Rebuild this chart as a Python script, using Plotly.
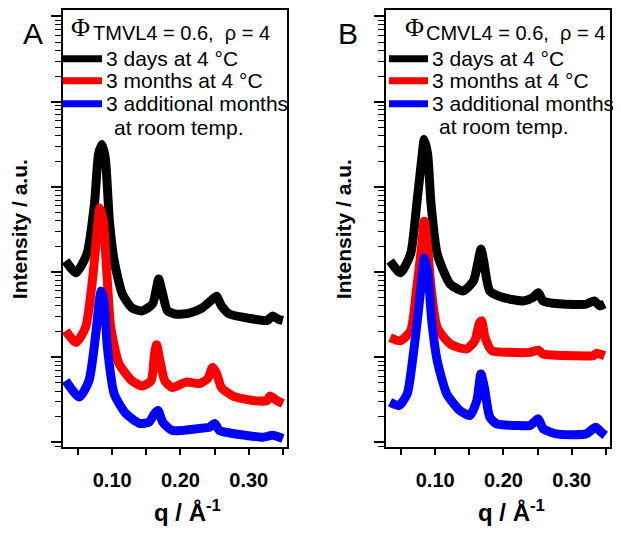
import plotly.graph_objects as go

# ---------------- data (q in 1/Angstrom, intensity in a.u., log scale) ----------------
qA_black = [0.032, 0.047, 0.063, 0.074, 0.080, 0.085, 0.090, 0.096, 0.103, 0.115, 0.129, 0.144,
            0.159, 0.165, 0.168, 0.174, 0.181, 0.194, 0.213, 0.232, 0.247, 0.253, 0.260, 0.272,
            0.297, 0.327, 0.335, 0.343, 0.350]
IA_black = [135, 98, 163, 624, 2400, 3140, 2150, 394, 135, 55, 38, 35,
            42, 65, 83, 55, 35, 32, 33, 38, 48, 52, 40, 32,
            29, 27, 30.5, 28, 27]

qA_red = [0.032, 0.047, 0.061, 0.071, 0.078, 0.082, 0.087, 0.092, 0.098, 0.110, 0.129, 0.144,
          0.157, 0.162, 0.165, 0.170, 0.177, 0.188, 0.208, 0.228, 0.240, 0.247, 0.253, 0.260,
          0.277, 0.306, 0.327, 0.331, 0.341, 0.350]
IA_red = [20.4, 14.9, 22.3, 78.5, 302, 565, 395, 103, 22.3, 8.4, 5.3, 4.6,
          5.3, 11, 14, 9.1, 5.3, 4.4, 5.1, 4.9, 5.6, 7.6, 6.4, 4.4,
          3.5, 3.1, 3.1, 3.5, 3.1, 2.86]

qA_blue = [0.032, 0.052, 0.066, 0.076, 0.081, 0.084, 0.088, 0.093, 0.103, 0.120, 0.140, 0.154,
           0.162, 0.167, 0.174, 0.188, 0.228, 0.243, 0.250, 0.257, 0.277, 0.321, 0.335, 0.350]
IA_blue = [5.3, 3.4, 5.3, 18.8, 45.8, 60, 45.8, 13, 3.7, 2.18, 1.67, 1.73,
           2.18, 2.37, 1.73, 1.38, 1.46, 1.51, 1.67, 1.38, 1.27, 1.15, 1.21, 1.11]

qB_black = [0.034, 0.049, 0.064, 0.073, 0.081, 0.084, 0.089, 0.094, 0.103, 0.122, 0.141, 0.156,
            0.163, 0.167, 0.171, 0.180, 0.200, 0.229, 0.243, 0.251, 0.258, 0.287, 0.321, 0.333,
            0.341, 0.348]
IB_black = [135, 98, 163, 624, 2400, 3600, 2400, 624, 163, 72, 60, 78.5,
            135, 186, 135, 60, 50, 45.8, 50, 57, 45.8, 42, 42, 45.8,
            40, 42]

qB_red = [0.034, 0.049, 0.064, 0.073, 0.080, 0.084, 0.089, 0.094, 0.103, 0.122, 0.146, 0.158,
          0.165, 0.168, 0.173, 0.183, 0.209, 0.239, 0.251, 0.258, 0.307, 0.331, 0.336, 0.348]
IB_red = [17, 15.6, 20.4, 65.5, 192, 395, 192, 65.5, 22.3, 14.3, 12.5, 15.6,
          25.5, 26.7, 17, 11.9, 11.4, 11.4, 12.1, 10.9, 10.4, 10.4, 11.1, 10.4]

qB_blue = [0.034, 0.047, 0.059, 0.068, 0.076, 0.082, 0.084, 0.089, 0.095, 0.103, 0.117, 0.136,
           0.151, 0.161, 0.167, 0.172, 0.180, 0.190, 0.219, 0.239, 0.251, 0.258, 0.277, 0.321,
           0.335, 0.343, 0.349]
IB_blue = [2.96, 2.71, 3.71, 10.9, 38.2, 112, 147, 103, 26.7, 9.1, 3.71, 2.37,
           2.07, 3.1, 6.36, 4.44, 1.98, 1.65, 1.58, 1.58, 1.89, 1.45, 1.26, 1.26,
           1.51, 1.32, 1.21]

series_names = ["3 days at 4 °C", "3 months at 4 °C", "3 additional months at room temp."]
series_colors = ["#000000", "#ff0000", "#0000ff"]
major_ticks = [0.10, 0.20, 0.30]
major_tick_text = ["0.10", "0.20", "0.30"]
minor_ticks = [0.05, 0.15, 0.25, 0.35]
panel_labels = ["A", "B"]
phi_subs = ["TMVL4", "CMVL4"]

# ---------------- figure ----------------
# the page body has an 8px margin, so the figure is drawn 8px in from the window corner
OFF = 8
W, H = 621 - OFF, 533 - OFF
FONT = "Arial, 'Liberation Sans', sans-serif"

def px(x):
    return (x - OFF) / W

def py(y):
    return 1 - (y - OFF) / H

fig = go.Figure()

panels = [
    ("x", "y", [(qA_black, IA_black), (qA_red, IA_red), (qA_blue, IA_blue)]),
    ("x2", "y2", [(qB_black, IB_black), (qB_red, IB_red), (qB_blue, IB_blue)]),
]
for xa, ya, curves in panels:
    for (q, inten), name, col in zip(curves, series_names, series_colors):
        fig.add_trace(go.Scatter(
            x=q, y=inten, mode="lines", name=name, xaxis=xa, yaxis=ya,
            line=dict(color=col, width=9, shape="spline", smoothing=0.6),
            showlegend=False,
        ))

xdom = [[px(63), px(287)], [px(386), px(610)]]
ydom = [py(447), py(8)]

common_x = dict(
    range=[0.028, 0.356], showgrid=False, zeroline=False,
    showline=True, linecolor="black", linewidth=1.5, mirror=True,
    ticks="outside", ticklen=6, tickwidth=1.5, tickcolor="black",
    tickvals=major_ticks, ticktext=major_tick_text, ticklabelstandoff=8,
    tickfont=dict(family=FONT, size=20, color="black", weight="bold"),
    minor=dict(ticks="outside", ticklen=6, tickwidth=1.5, tickcolor="black",
               tickvals=minor_ticks, showgrid=False),
)
common_y = dict(
    type="log", range=[-0.058, 5.076], showgrid=False, zeroline=False,
    showline=True, linecolor="black", linewidth=1.5, mirror=True,
    ticks="outside", ticklen=10, tickwidth=1.5, tickcolor="black",
    dtick=1, showticklabels=False,
    minor=dict(ticks="outside", ticklen=6, tickwidth=1, tickcolor="black", dtick="D1", showgrid=False),
)

fig.update_layout(
    width=W, height=H, margin=dict(l=0, r=0, t=0, b=0),
    paper_bgcolor="white", plot_bgcolor="white",
    font=dict(family=FONT, color="black"),
    xaxis=dict(domain=xdom[0], anchor="y", **common_x),
    yaxis=dict(domain=ydom, anchor="x", **common_y),
    xaxis2=dict(domain=xdom[1], anchor="y2", **common_x),
    yaxis2=dict(domain=ydom, anchor="x2", **common_y),
)

annotations = []
shapes = []

def text_ann(x, y, text, size, xanchor="left", bold=False, angle=0, family=FONT):
    annotations.append(dict(
        x=px(x), y=py(y), xref="paper", yref="paper", text=text, showarrow=False,
        xanchor=xanchor, yanchor="middle", textangle=angle,
        font=dict(family=family, size=size, color="black", weight="bold" if bold else "normal"),
    ))

# panel-specific layout pixel positions (window pixels)
panel_cfg = [
    dict(letter_x=33, ytitle_x=19, xtitle_x=187, phi_x=80, sub_x=93,
         sample=(63, 102), text_x=106, text2_x=114, rows=(57, 79, 102), row4=126),
    dict(letter_x=348, ytitle_x=343, xtitle_x=511, phi_x=414, sub_x=426,
         sample=(389, 428), text_x=432, text2_x=439, rows=(57, 79, 102), row4=125),
]

for cfg, letter, sub in zip(panel_cfg, panel_labels, phi_subs):
    text_ann(cfg["letter_x"], 32, letter, 30, xanchor="center")
    text_ann(cfg["ytitle_x"], 228, "Intensity / a.u.", 21, xanchor="center", bold=True, angle=-90)
    text_ann(cfg["xtitle_x"], 511, "q / Å<sup>-1</sup>", 24, xanchor="center", bold=True)
    text_ann(cfg["phi_x"], 26, "Φ", 26, xanchor="center",
             family="'Liberation Serif', 'Times New Roman', serif")
    text_ann(cfg["sub_x"] - 2, 31.5, sub + " = 0.6, \u00a0ρ = 4", 20)
    labels = ["3 days at 4 °C", "3 months at 4 °C", "3 additional months"]
    for yrow, lab, col in zip(cfg["rows"], labels, series_colors):
        shapes.append(dict(type="line", xref="paper", yref="paper",
                           x0=px(cfg["sample"][0]), x1=px(cfg["sample"][1]),
                           y0=py(yrow), y1=py(yrow), line=dict(color=col, width=7)))
        text_ann(cfg["text_x"] - 2, yrow, lab, 21)
    text_ann(cfg["text2_x"] - 2, cfg["row4"], "at room temp.", 21)

fig.update_layout(annotations=annotations, shapes=shapes)

fig.write_html("out.html")
